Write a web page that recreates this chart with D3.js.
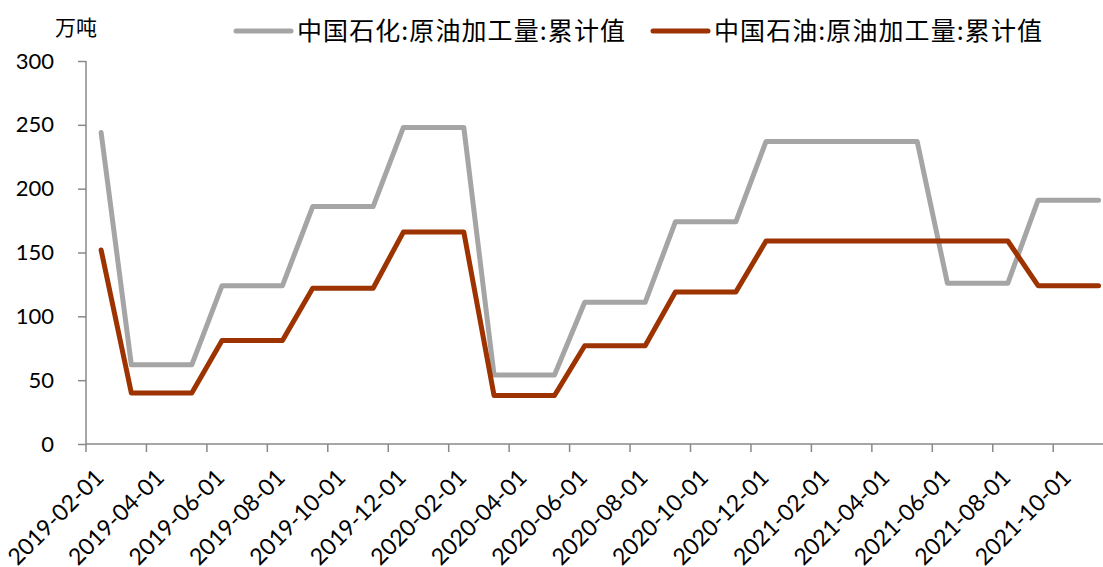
<!DOCTYPE html>
<html>
<head>
<meta charset="utf-8">
<script src="https://cdn.jsdelivr.net/npm/d3@7"></script>
<style>
  body { margin: 0; background: #fff; }
  svg { display: block; }
  .axis path, .axis line { stroke: #898989; stroke-width: 1.5; }
  .axis text { font-family: Lato, "Noto Sans", sans-serif; font-size: 22px; fill: #000; }
  .axis text.xlabel { font-size: 23px; }
</style>
</head>
<body>
<svg id="chart"></svg>
<script>
// monthly categories, Feb 2019 .. Nov 2021
const months = [
  "2019-02-01", "2019-03-01", "2019-04-01", "2019-05-01", "2019-06-01", "2019-07-01",
  "2019-08-01", "2019-09-01", "2019-10-01", "2019-11-01", "2019-12-01", "2020-01-01",
  "2020-02-01", "2020-03-01", "2020-04-01", "2020-05-01", "2020-06-01", "2020-07-01",
  "2020-08-01", "2020-09-01", "2020-10-01", "2020-11-01", "2020-12-01", "2021-01-01",
  "2021-02-01", "2021-03-01", "2021-04-01", "2021-05-01", "2021-06-01", "2021-07-01",
  "2021-08-01", "2021-09-01", "2021-10-01", "2021-11-01"
];

// 中国石化:原油加工量:累计值 (万吨)
const sinopec = [
  244, 62, 62, 62, 124, 124, 124, 186, 186, 186, 248, 248, 248,
  54, 54, 54, 111, 111, 111, 174, 174, 174,
  237, 237, 237, 237, 237, 237, 126, 126, 126, 191, 191, 191
];

// 中国石油:原油加工量:累计值 (万吨)
const petrochina = [
  152, 40, 40, 40, 81, 81, 81, 122, 122, 122, 166, 166, 166,
  38, 38, 38, 77, 77, 77, 119, 119, 119,
  159, 159, 159, 159, 159, 159, 159, 159, 159, 124, 124, 124
];

const yTicks = [0, 50, 100, 150, 200, 250, 300];
const seriesNames = ["中国石化:原油加工量:累计值", "中国石油:原油加工量:累计值"];

const width = 1103, height = 567;
const plotLeft = 86, plotBottom = 444, plotTop = 61;
const step = 30.225;

const svg = d3.select("#chart")
  .attr("width", width)
  .attr("height", height);

// x: one band per month (plot runs past the right edge, as in the original crop)
const x = d3.scaleBand()
  .domain(months)
  .range([plotLeft, plotLeft + months.length * step]);

const y = d3.scaleLinear()
  .domain([0, 300])
  .range([plotBottom, plotTop]);

// Y axis
svg.append("g")
  .attr("class", "axis")
  .attr("transform", `translate(${plotLeft},0)`)
  .call(d3.axisLeft(y).tickValues(yTicks).tickSize(8).tickPadding(24).tickSizeOuter(0))
  .call(g => g.select(".domain").attr("d", `M0,${plotBottom}V${plotTop}`));

// X axis: tick marks at band edges every 2 months
const evenMonths = months.filter((d, i) => i % 2 === 0);
const xAxis = svg.append("g")
  .attr("class", "axis")
  .attr("transform", `translate(0,${plotBottom})`);

xAxis.append("path")
  .attr("class", "domain")
  .attr("d", `M${plotLeft},0H${width}`)
  .attr("fill", "none");

xAxis.selectAll(".xtick")
  .data(evenMonths)
  .enter()
  .append("line")
  .attr("class", "xtick")
  .attr("x1", d => x(d))
  .attr("x2", d => x(d))
  .attr("y1", 0)
  .attr("y2", 8);

// rotated labels centred on their month
xAxis.selectAll(".xlabel")
  .data(evenMonths)
  .enter()
  .append("text")
  .attr("class", "xlabel")
  .attr("text-anchor", "end")
  .attr("transform", d => `translate(${x(d) + x.bandwidth() / 2 + 4},${35}) rotate(-45)`)
  .text(d => d);

// lines
const line = d3.line()
  .x((d, i) => x(months[i]) + x.bandwidth() / 2)
  .y(d => y(d));

const colors = ["#A5A5A5", "#9C3300"];

[sinopec, petrochina].forEach((vals, k) => {
  svg.append("path")
    .datum(vals)
    .attr("fill", "none")
    .attr("stroke", colors[k])
    .attr("stroke-width", 5)
    .attr("stroke-linejoin", "round")
    .attr("stroke-linecap", "round")
    .attr("d", line);
});

// unit label
svg.append("text")
  .attr("x", 55)
  .attr("y", 35)
  .style("font-family", "'Noto Sans CJK SC', sans-serif")
  .style("font-size", "21px")
  .text("万吨");

// legend
const legendX = [236, 653];
seriesNames.forEach((name, k) => {
  const g = svg.append("g").attr("transform", `translate(${legendX[k]},31)`);
  g.append("line")
    .attr("x1", 0).attr("x2", 55)
    .attr("stroke", colors[k])
    .attr("stroke-width", 5)
    .attr("stroke-linecap", "round");
  g.append("text")
    .attr("x", 61)
    .attr("y", 9)
    .style("font-family", "'Noto Sans CJK SC', sans-serif")
    .style("font-size", "25px")
    .attr("textLength", 328)
    .text(name);
});
</script>
</body>
</html>
